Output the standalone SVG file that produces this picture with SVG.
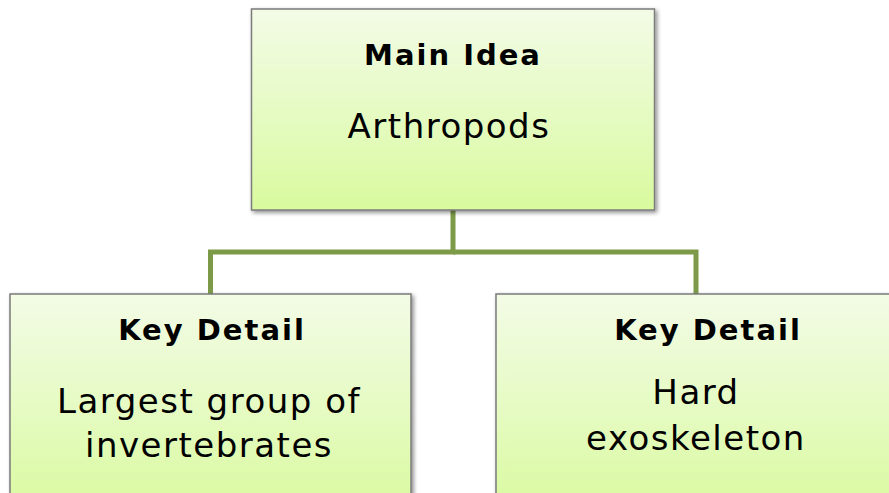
<svg xmlns="http://www.w3.org/2000/svg" width="889" height="493" viewBox="0 0 889 493">
  <defs>
    <linearGradient id="boxFill" x1="0" y1="0" x2="0" y2="1">
      <stop offset="0" stop-color="#f3fbe6"/>
      <stop offset="0.5" stop-color="#e6fbc4"/>
      <stop offset="1" stop-color="#d9fa9e"/>
    </linearGradient>
    <filter id="shadow" x="-5%" y="-5%" width="115%" height="120%">
      <feGaussianBlur in="SourceAlpha" stdDeviation="2"/>
      <feOffset dx="1.5" dy="2" result="blur"/>
      <feComponentTransfer><feFuncA type="linear" slope="0.45"/></feComponentTransfer>
      <feMerge><feMergeNode/><feMergeNode in="SourceGraphic"/></feMerge>
    </filter>
  </defs>
  <style>
    .box { fill: url(#boxFill); stroke: #7b7b7b; stroke-width: 1.5; filter: url(#shadow); }
    .head { font-family: "DejaVu Sans", Verdana, sans-serif; font-weight: bold; font-size: 29px; fill: #000; text-anchor: middle; letter-spacing: 2px; }
    .body { font-family: "DejaVu Sans", Verdana, sans-serif; font-size: 34px; fill: #000; text-anchor: middle; letter-spacing: 1.5px; }
    .wire { fill: none; stroke: #7d9a48; stroke-width: 5; stroke-linejoin: miter; }
  </style>

  <rect width="889" height="493" fill="#ffffff"/>

  <!-- connectors -->
  <g id="connectors">
    <path class="wire" d="M453 209 V252 H210.5 V294"/>
    <path class="wire" d="M453 252 H696 V294"/>
  </g>

  <!-- main idea -->
  <g id="main-idea">
    <rect class="box" x="251.5" y="9" width="403" height="201"/>
    <text class="head" x="453" y="65">Main Idea</text>
    <text class="body" x="449" y="138">Arthropods</text>
  </g>

  <!-- left detail -->
  <g id="detail-left">
    <rect class="box" x="10" y="294" width="401" height="220"/>
    <text class="head" x="212" y="340">Key Detail</text>
    <text class="body" x="209" y="413">Largest group of</text>
    <text class="body" x="209" y="457">invertebrates</text>
  </g>

  <!-- right detail -->
  <g id="detail-right">
    <rect class="box" x="496" y="294" width="420" height="220"/>
    <text class="head" x="708" y="340">Key Detail</text>
    <text class="body" x="696" y="404">Hard</text>
    <text class="body" x="696" y="450">exoskeleton</text>
  </g>
</svg>
